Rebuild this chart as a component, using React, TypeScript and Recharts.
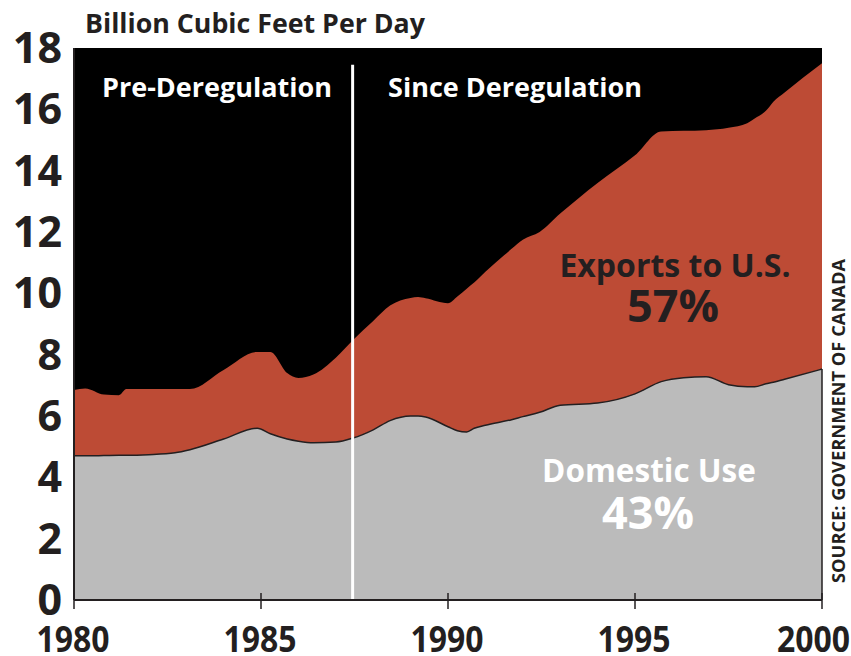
import React from 'react';
import { AreaChart, Area, XAxis, YAxis, CartesianGrid, ReferenceLine } from 'recharts';

const years = [
  1980, 1980.3, 1980.8, 1981.2, 1981.4, 1982, 1982.7, 1983.1, 1984, 1984.9,
  1985.25, 1985.7, 1986, 1986.4, 1987, 1987.46, 1988, 1988.45, 1989, 1989.2,
  1989.4, 1990, 1990.25, 1990.5, 1990.7, 1991, 1991.7, 1992, 1992.45, 1993,
  1994, 1995, 1995.7, 1996.3, 1996.9, 1997.5, 1998, 1998.2, 1998.5, 1998.7,
  1999, 2000,
];
// Top of the stack: domestic use + exports to U.S.
const totalProduction = [
  6.85, 6.9, 6.7, 6.68, 6.88, 6.88, 6.88, 6.88, 7.5, 8.09,
  8.09, 7.4, 7.24, 7.35, 7.9, 8.48, 9.1, 9.6, 9.85, 9.88,
  9.84, 9.68, 9.9, 10.15, 10.35, 10.7, 11.45, 11.75, 12.0, 12.6,
  13.6, 14.5, 15.28, 15.3, 15.32, 15.4, 15.55, 15.7, 15.95, 16.25,
  16.55, 17.5,
];
const domesticUse = [
  4.7, 4.7, 4.71, 4.72, 4.72, 4.74, 4.8, 4.9, 5.25, 5.6,
  5.42, 5.25, 5.18, 5.13, 5.15, 5.28, 5.55, 5.85, 6.0, 6.0,
  5.97, 5.65, 5.52, 5.48, 5.6, 5.7, 5.88, 5.98, 6.12, 6.35,
  6.42, 6.72, 7.12, 7.25, 7.28, 7.02, 6.95, 6.95, 7.05, 7.1,
  7.2, 7.53,
];
const yTicks = [0, 2, 4, 6, 8, 10, 12, 14, 16, 18];
const xTicks = [1980, 1985, 1990, 1995, 2000];
const deregulationYear = 1987.45;

const data = years.map((year, i) => ({
  year,
  total: totalProduction[i],
  domestic: domesticUse[i],
}));

const DARK = '#231f20';
const FONT = "'Open Sans', 'Noto Sans', sans-serif";
const LABEL_W = 73;

const XTick = (props: any) => {
  const { x, y, payload } = props;
  const left = Math.max(2, Math.min(x - LABEL_W / 2 - 1, 850 - LABEL_W));
  return (
    <g>
      <line x1={x} x2={x} y1={y - 7} y2={y + 9} stroke={DARK} strokeWidth={1.5} />
      <text
        x={left}
        y={y + 52}
        textLength={LABEL_W}
        lengthAdjust="spacingAndGlyphs"
        fontFamily={FONT}
        fontWeight={700}
        fontSize={36}
        fill={DARK}
      >
        {payload.value}
      </text>
    </g>
  );
};

const YTick = (props: any) => {
  const { y, payload } = props;
  return (
    <text x={62} y={y + 15} textAnchor="end" fontFamily={FONT} fontWeight={700} fontSize={43} fill={DARK}>
      {payload.value}
    </text>
  );
};

export default function App() {
  return (
    <div style={{ position: 'absolute', left: 0, top: 0, width: 851, height: 656, background: '#fff' }}>
      <AreaChart
        width={851}
        height={656}
        data={data}
        margin={{ top: 48, right: 29, left: 0, bottom: 0 }}
      >
        <CartesianGrid fill="#000" stroke="none" horizontal={false} vertical={false} />
        <XAxis
          dataKey="year"
          type="number"
          domain={[1980, 2000]}
          ticks={xTicks}
          height={56}
          tickSize={0}
          tickMargin={0}
          tick={<XTick />}
          axisLine={{ stroke: DARK, strokeWidth: 2 }}
          tickLine={false}
        />
        <YAxis
          domain={[0, 18]}
          ticks={yTicks}
          width={74}
          tickSize={0}
          tick={<YTick />}
          axisLine={{ stroke: DARK, strokeWidth: 2 }}
          tickLine={false}
        />
        <Area
          type="monotone"
          dataKey="total"
          fill="#bd4b35"
          fillOpacity={1}
          stroke="none"
          isAnimationActive={false}
          dot={false}
          activeDot={false}
        />
        <Area
          type="monotone"
          dataKey="domestic"
          fill="#bbbbbb"
          fillOpacity={1}
          stroke={DARK}
          strokeWidth={1.5}
          isAnimationActive={false}
          dot={false}
          activeDot={false}
        />
        <ReferenceLine
          segment={[{ x: deregulationYear, y: 0 }, { x: deregulationYear, y: 17.45 }]}
          stroke="#fff"
          strokeWidth={3}
        />
        <ReferenceLine
          segment={[{ x: 2000, y: 0 }, { x: 2000, y: domesticUse[domesticUse.length - 1] }]}
          stroke={DARK}
          strokeWidth={1.5}
        />
      </AreaChart>
      <svg width={851} height={656} style={{ position: 'absolute', left: 0, top: 0, pointerEvents: 'none' }}>
        <text x={85} y={33} textLength={340} lengthAdjust="spacingAndGlyphs" fontFamily={FONT} fontWeight={700} fontSize={26} fill={DARK}>
          Billion Cubic Feet Per Day
        </text>
        <text x={217} y={97} textAnchor="middle" fontFamily={FONT} fontWeight={700} fontSize={27} fill="#fff">
          Pre-Deregulation
        </text>
        <text x={515} y={97} textAnchor="middle" fontFamily={FONT} fontWeight={700} fontSize={27} fill="#fff">
          Since Deregulation
        </text>
        <text x={675} y={277} textAnchor="middle" fontFamily={FONT} fontWeight={700} fontSize={32} fill={DARK}>
          Exports to U.S.
        </text>
        <text x={673} y={322} textAnchor="middle" fontFamily={FONT} fontWeight={700} fontSize={45} fill={DARK}>
          57%
        </text>
        <text x={649} y={482} textAnchor="middle" fontFamily={FONT} fontWeight={700} fontSize={31.5} fill="#fff">
          Domestic Use
        </text>
        <text x={648} y={529} textAnchor="middle" fontFamily={FONT} fontWeight={700} fontSize={45} fill="#fff">
          43%
        </text>
        <text
          x={0}
          y={0}
          transform="translate(845 421) rotate(-90)"
          textAnchor="middle"
          fontFamily={FONT}
          fontWeight={700}
          fontSize={18.3}
          fill={DARK}
        >
          SOURCE: GOVERNMENT OF CANADA
        </text>
      </svg>
    </div>
  );
}
